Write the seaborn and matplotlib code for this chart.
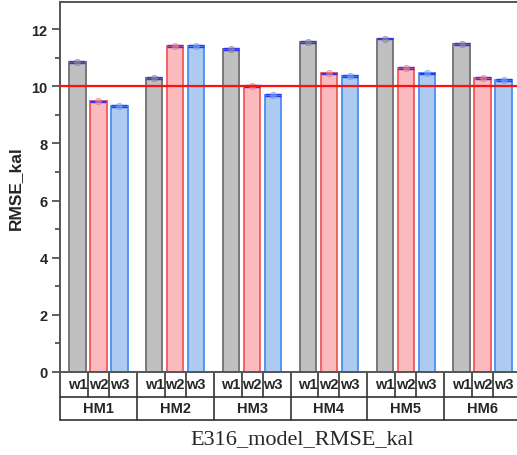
import matplotlib
matplotlib.use("Agg")
import matplotlib.pyplot as plt
import matplotlib.transforms as mtransforms
import seaborn as sns
import pandas as pd
import numpy as np

groups = ["HM1", "HM2", "HM3", "HM4", "HM5", "HM6"]
series = ["w1", "w2", "w3"]
w1_vals = [10.85, 10.28, 11.31, 11.55, 11.67, 11.47]
w2_vals = [9.47, 11.40, 10.00, 10.45, 10.65, 10.28]
w3_vals = [9.32, 11.40, 9.70, 10.37, 10.45, 10.22]
w1_err = [0.03, 0.03, 0.03, 0.03, 0.03, 0.03]
w2_err = [0.03, 0.03, 0.03, 0.03, 0.03, 0.03]
w3_err = [0.03, 0.03, 0.03, 0.03, 0.03, 0.03]
threshold = 10
xlabel_text = "E316_model_RMSE_kal"
ylabel_text = "RMSE_kal"

fills = {"w1": "#c0c0c0", "w2": "#fbbabd", "w3": "#adcbf1"}
edges = {"w1": "#707070", "w2": "#f4585c", "w3": "#4a8ff2"}
markc = {"w1": "#9a9a9a", "w2": "#f29a9e", "w3": "#8ab4ee"}

df = pd.DataFrame({
    "group": groups * 3,
    "series": sum([[s] * len(groups) for s in series], []),
    "value": w1_vals + w2_vals + w3_vals,
    "err": w1_err + w2_err + w3_err,
})

sns.set_style("ticks")
fig = plt.figure(figsize=(5.17, 4.56), dpi=100)
ax = fig.add_axes([60 / 517, 83 / 456, 461 / 517, 370 / 456])

sns.barplot(data=df, x="group", y="value", hue="series", palette=fills,
            saturation=1, width=0.82, gap=0.22, errorbar=None, legend=False,
            ax=ax, linewidth=1.3)
bar_conts = list(ax.containers)

offs = []
for cont, s in zip(bar_conts, series):
    sub = df[df["series"] == s]
    xs = []
    for patch in cont:
        patch.set_facecolor(fills[s])
        patch.set_edgecolor(edges[s])
        patch.set_linewidth(1.3)
        xs.append(patch.get_x() + patch.get_width() / 2)
    offs.append(xs[0])
    ax.errorbar(xs, sub["value"], yerr=sub["err"], fmt="none", ecolor="#3030ff",
                elinewidth=0.8, capsize=6.0, capthick=1.0, zorder=5)
    ax.plot(xs, sub["value"], "o", ms=4.5, mfc=markc[s], mec=edges[s],
            mew=0.6, alpha=0.55, zorder=6)

ax.axhline(threshold, color="#ff1010", lw=1.6, zorder=7)

ax.set_xlim(-0.5, len(groups) - 0.5)
ax.set_ylim(0, 12.95)
ax.set_yticks(np.arange(0, 13, 2))
ax.set_yticks(np.arange(1, 13, 2), minor=True)
ax.tick_params(axis="y", which="major", length=6, width=1.2, color="#444444",
               labelsize=10.5, pad=3)
ax.tick_params(axis="y", which="minor", length=3.5, width=1.2, color="#444444")
for lab in ax.get_yticklabels():
    lab.set_fontweight("bold")
    lab.set_family("Liberation Sans")
ax.set_xticks([])
ax.set_xlabel("")
ax.set_ylabel(ylabel_text, fontsize=12.5, fontweight="bold",
              family="Liberation Sans", labelpad=6)
for sp in ["left", "top", "bottom"]:
    ax.spines[sp].set_color("#555555")
    ax.spines[sp].set_linewidth(1.4)
ax.spines["right"].set_visible(False)

trans = mtransforms.blended_transform_factory(ax.transData, ax.transAxes)
row1 = -25 / 370
row2 = -48 / 370
lk = dict(transform=trans, clip_on=False, color="#333333", lw=1.2)
ax.plot([-0.5, len(groups) - 0.5], [row1, row1], **lk)
ax.plot([-0.5, len(groups) - 0.5], [row2, row2], **lk)
for gi, g in enumerate(groups):
    ax.plot([gi - 0.5, gi - 0.5], [0, row2], **lk)
    for k in range(len(series) - 1):
        xm = gi + (offs[k] + offs[k + 1]) / 2
        ax.plot([xm, xm], [0, row1], **lk)
    for k, s in enumerate(series):
        ax.text(gi + offs[k], row1 / 2, s, transform=trans, ha="center",
                va="center", fontsize=10.5, fontweight="bold",
                family="Liberation Sans")
    ax.text(gi, (row1 + row2) / 2, g, transform=trans, ha="center",
            va="center", fontsize=10.5, fontweight="bold", family="Liberation Sans")
ax.plot([len(groups) - 0.5] * 2, [0, row2], **lk)

fig.text(302 / 517, 1 - 440 / 456, xlabel_text, ha="center", va="center",
         fontsize=16, family="Liberation Serif")

fig.savefig("out.png", dpi=100)
